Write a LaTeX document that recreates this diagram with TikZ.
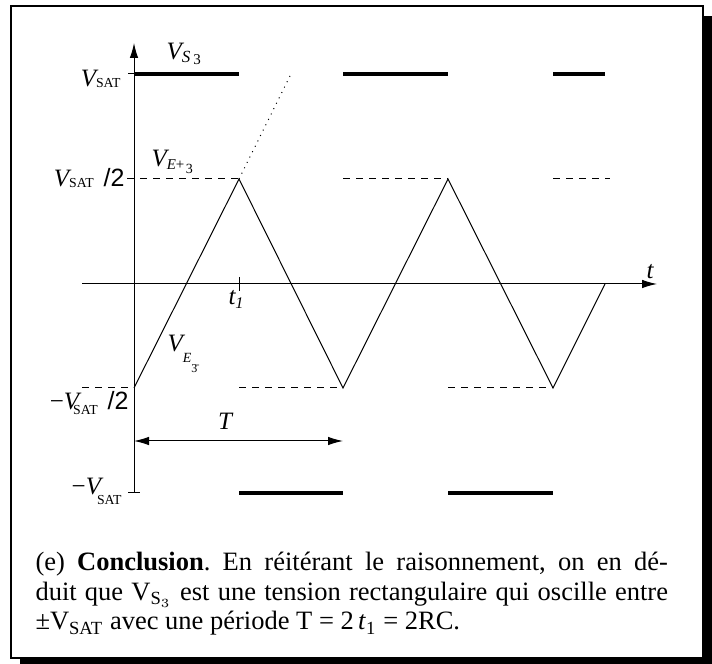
\documentclass[tikz,border=0pt]{standalone}
\usepackage{fontspec}
\setmainfont{Liberation Serif}
\newfontfamily\hvs{Liberation Sans}
\usetikzlibrary{arrows.meta}
\newcommand{\lo}[3]{\raisebox{-#1}{\fontsize{#2}{#2}\selectfont #3}}

\tikzset{every picture/.style={line width=0.4pt}}
\tikzset{
  sat/.style={line width=1.6pt},
  lvl/.style={dash pattern=on 2.8pt off 2.4pt},
  lbl/.style={font=\fontsize{10}{12}\selectfont, inner sep=0pt},
  tip/.style={-{Latex[length=6pt,width=3.4pt]}}
}

\begin{document}
\begin{tikzpicture}[x=0.4pt,y=-0.4pt]
    \useasboundingbox (0,0) rectangle (712,664);
    \fill (20,658) rectangle (712,664);
    \fill (703,16) rectangle (712,664);
    \draw[line width=0.8pt] (11,6) rectangle (703,658);
    % axes
    \draw[tip] (134,493) -- (134,43);
    \draw[tip] (82,284) -- (657,284);
    \draw (239,277) -- (239,291);
    \draw (128,74) -- (134,74);
    \draw (128,493) -- (140,493);
    % levels
    \draw[sat] (134,74) -- (239,74) (343,74) -- (448,74) (553,74) -- (605,74);
    \draw[sat] (239,493) -- (343,493) (448,493) -- (553,493);
    \draw[lvl] (127,179) -- (239,179) (343,179) -- (448,179) (553,179) -- (610,179);
    \draw[lvl] (82,388) -- (134,388) (239,388) -- (343,388) (448,388) -- (553,388);
    % triangle
    \draw (134,388) -- (239,179) -- (343,388) -- (448,179) -- (553,388) -- (605,284);
    \draw[dotted] (239,179) -- (291,74);
    % period
    \draw[{Latex[length=6pt,width=3.4pt]}-{Latex[length=6pt,width=3.4pt]}] (134,441) -- (343,441);
    % labels
    \node[lbl, anchor=base east] (vsat) at (121,87) {{\itshape V}\lo{0.4pt}{5.5}{SAT}};
    \node[lbl, anchor=base east] (vsath) at (125,187) {{\itshape V}\lo{0.4pt}{5.5}{SAT}\hspace{4pt}{\hvs /2}};
    \node[lbl, anchor=base east] (mvsath) at (129,410) {−{\itshape V}\kern-2.4pt\lo{2pt}{5.5}{SAT}\hspace{4pt}{\hvs /2}};
    \node[lbl, anchor=base east] (mvsat) at (122,495) {−{\itshape V}\kern-1.6pt\lo{4pt}{5.5}{SAT}};
    \node[lbl, anchor=base west] (vs) at (166,60) {{\itshape V}\lo{1.2pt}{6.8}{\itshape S}\hspace{1.2pt}\lo{2pt}{6}{3}};
    \node[lbl, anchor=base west] (vep) at (151,167) {{\itshape V}\lo{1.2pt}{6}{\itshape E}\lo{1.2pt}{6}{+}\hspace{0.6pt}\lo{2.8pt}{5.6}{3}};
    \node[lbl, anchor=base west] (vem) at (167,352) {{\itshape V}\lo{4.4pt}{5.6}{\itshape E}\lo{8.2pt}{4.8}{\=3}};
    \node[lbl, anchor=base] (t) at (650,279) {\itshape t};
    \node[lbl, anchor=base west] (tone) at (228,305) {{\itshape t}\lo{1.5pt}{6.5}{\itshape 1}};
    \node[lbl, anchor=base] (per) at (225,430) {\itshape T};
    % caption
    \node[anchor=north west, inner sep=0pt, text width=253pt, align=justify,
          font=\fontsize{10.6}{11.8}\selectfont\frenchspacing] (cap) at (35,552)
      {(e) \textbf{Conclusion}. En r\'eit\'erant le raisonnement, on en d\'e-\linebreak
       duit que V$_{\mathrm{S}_3}$ est une tension rectangulaire qui oscille entre\linebreak
       ±V\textsubscript{SAT} avec une p\'eriode T = 2\,\textit{t}\textsubscript{1} = 2RC.};
\end{tikzpicture}
\end{document}
